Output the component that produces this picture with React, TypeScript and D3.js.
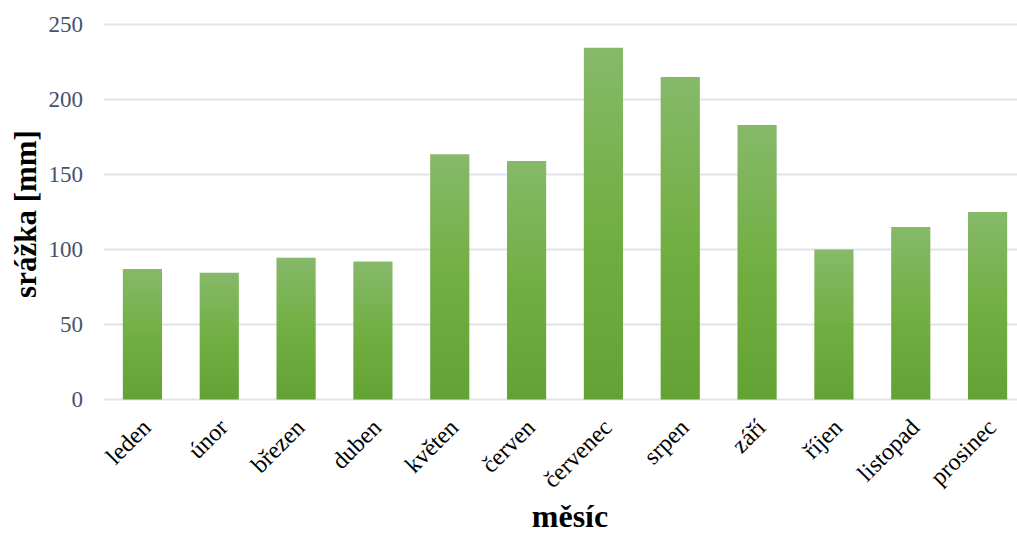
import React from "react";
import * as d3 from "d3";

const months = ["leden", "únor", "březen", "duben", "květen", "červen", "červenec", "srpen", "září", "říjen", "listopad", "prosinec"];
const precipitation = [87, 84.5, 94.5, 92, 163.5, 159, 234.5, 215, 183, 100, 115, 125];
const yTicks = [0, 50, 100, 150, 200, 250];

const W = 1017;
const H = 535;

export default function App() {
  const x = d3.scaleBand<string>().domain(months).range([104, 1026]).paddingInner(0.49).paddingOuter(0.245);
  const y = d3.scaleLinear().domain([0, 250]).range([399.5, 24.5]);
  const font = "'Liberation Serif', 'Times New Roman', serif";
  return (
    <svg width={W} height={H} style={{ position: "absolute", left: 0, top: 0 }} fontFamily={font}>
      <defs>
        <linearGradient id="barGrad" x1="0" y1="0" x2="0" y2="1">
          <stop offset="0%" stopColor="#86B96A" />
          <stop offset="50%" stopColor="#72AF43" />
          <stop offset="100%" stopColor="#63A235" />
        </linearGradient>
      </defs>
      {yTicks.map((t) => (
        <g key={t}>
          <line x1={104} x2={W} y1={y(t)} y2={y(t)} stroke="#E0E3E9" strokeWidth={1.8} />
          <text x={83} y={y(t)} dy="0.33em" textAnchor="end" fontSize={23} fill="#44546A">{t}</text>
        </g>
      ))}
      {months.map((m, i) => (
        <rect key={m} x={x(m)} y={y(precipitation[i])} width={x.bandwidth()} height={y(0) - y(precipitation[i])} fill="url(#barGrad)" />
      ))}
      {months.map((m) => {
        const cx = (x(m) as number) + x.bandwidth() / 2;
        return (
          <text key={m} transform={`translate(${cx + 4},${423}) rotate(-45)`} textAnchor="end" dy="0.35em" fontSize={24} fill="#000">{m}</text>
        );
      })}
      <text transform={`translate(36,214) rotate(-90)`} textAnchor="middle" fontSize={31} fontWeight="bold" fill="#000">srážka [mm]</text>
      <text x={570} y={527} textAnchor="middle" fontSize={32} fontWeight="bold" fill="#000">měsíc</text>
    </svg>
  );
}
